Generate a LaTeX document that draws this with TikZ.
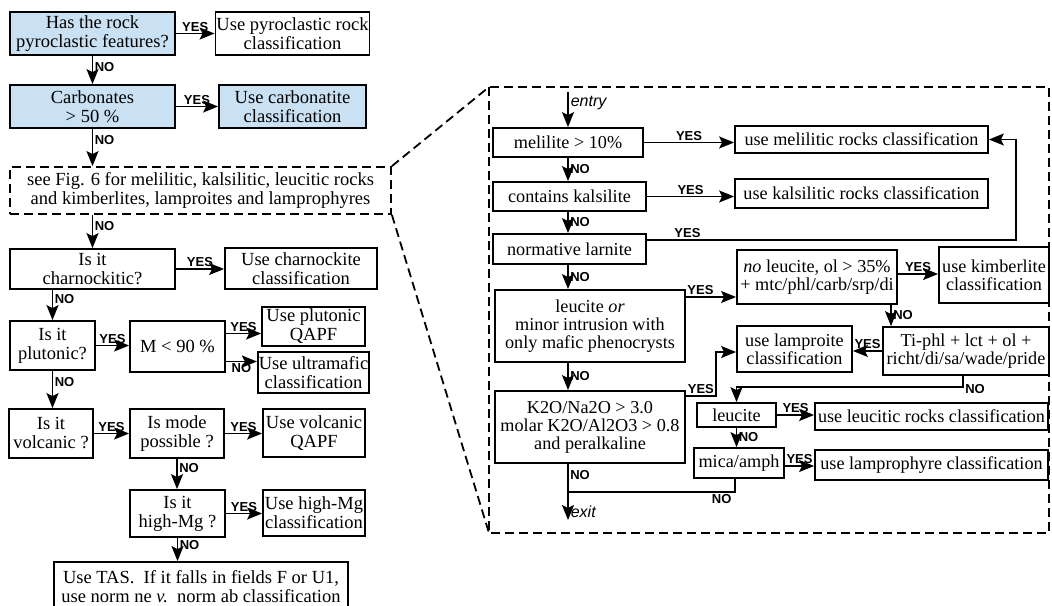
\documentclass[tikz,border=0pt]{standalone}
\usepackage{fontspec}
\setmainfont{Liberation Serif}
\setsansfont{Liberation Sans}
\usetikzlibrary{arrows.meta}
\definecolor{paleblue}{RGB}{201,225,243}

\begin{document}
\begin{tikzpicture}[x=1pt,y=-1pt,
		box/.style={draw,line width=1.8,align=center,inner sep=1pt,font=\fontsize{18.5}{19}\selectfont},
		rbox/.style={box,font=\fontsize{18.2}{18}\selectfont},
		tinted/.style={box,fill=paleblue},
		yn/.style={font=\fontsize{13}{13}\sffamily\bfseries,inner sep=1.5pt},
		tag/.style={font=\fontsize{16}{16}\sffamily\itshape,inner sep=2pt},
		arr/.style={line width=1.6,-{Stealth[length=15pt,width=12pt,inset=3pt]}},
		zoomline/.style={line width=1.8,dash pattern=on 9pt off 5pt}]
			\useasboundingbox (0,0) rectangle (1052,605);
			%left column
			\node[tinted,minimum width=165,minimum height=43] (pyro) at (92.5,33.5) {Has the rock\\pyroclastic features?};
			\node[box,minimum width=147,minimum height=43] (pyrouse) at (292.5,33.5) {Use pyroclastic rock\\classification};
			\node[tinted,minimum width=165,minimum height=43] (carb) at (92.5,106.5) {Carbonates\\> 50 \%};
			\node[tinted,minimum width=147,minimum height=43] (carbuse) at (292.5,106.5) {Use carbonatite\\classification};
			\node[box,zoomline,minimum width=381,minimum height=47] (fig) at (200.5,190.5) {see Fig. 6 for melilitic, kalsilitic, leucitic rocks\\and kimberlites, lamproites and lamprophyres};
			\node[box,minimum width=165,minimum height=40] (charn) at (92.5,269) {Is it\\charnockitic?};
			\node[box,minimum width=152,minimum height=41] (charnuse) at (301,268.5) {Use charnockite\\classification};
			\node[box,minimum width=85,minimum height=49] (pluto) at (52.5,345.5) {Is it\\plutonic?};
			\node[box,minimum width=95,minimum height=51] (mafic) at (177.5,346.5) {M < 90 \%};
			\node[box,minimum width=103,minimum height=39] (plutouse) at (313.5,326.5) {Use plutonic\\QAPF};
			\node[box,minimum width=103,minimum height=41] (ultra) at (313.5,372.5) {Use ultramafic\\classification};
			\node[box,minimum width=84,minimum height=49] (volc) at (51,433.5) {Is it\\volcanic ?};
			\node[box,minimum width=94,minimum height=49] (mode) at (177,433.5) {Is mode\\possible ?};
			\node[box,minimum width=102,minimum height=48] (volcuse) at (314,433) {Use volcanic\\QAPF};
			\node[box,minimum width=95,minimum height=47] (himg) at (177.5,513.5) {Is it\\high-Mg ?};
			\node[box,minimum width=102,minimum height=46] (himguse) at (314,513) {Use high-Mg\\classification};
			\node[box,minimum width=294,minimum height=50] (tas) at (201,587) {Use TAS.\ \ If it falls in fields F or U1,\\use norm ne \textit{v.}\ \ norm ab classification};
			
			\draw[arr] (pyro) -- node[yn,above]{YES} (pyrouse);
			\draw[arr] (pyro.south) -- node[yn,right,pos=0.4]{NO} (carb.north);
			\draw[arr] (carb) -- node[yn,above]{YES} (carbuse);
			\draw[arr] (carb.south) -- node[yn,right,pos=0.3]{NO} (carb.south |- fig.north);
			\draw[arr] (fig.south -| charn) -- node[yn,right,pos=0.35]{NO} (charn);
			\draw[arr] (charn.east) -- node[yn,above]{YES} (charn.east -| charnuse.west);
			\draw[arr] (charn.south -| pluto) -- node[yn,right,pos=0.3]{NO} (pluto);
			\draw[arr] (pluto.east) -- node[yn,above]{YES} (pluto.east -| mafic.west);
			\draw[arr] ([yshift=13pt]mafic.east) -- node[yn,above]{YES} ([yshift=13pt]mafic.east -| plutouse.west);
			\draw[arr] ([yshift=-15pt]mafic.east) -- node[yn,below]{NO} ([yshift=-15pt]mafic.east -| ultra.west);
			\draw[arr] (pluto.south) -- node[yn,right,pos=0.3]{NO} (pluto.south |- volc.north);
			\draw[arr] (volc) -- node[yn,above]{YES} (mode);
			\draw[arr] (mode.east) -- node[yn,above]{YES} (mode.east -| volcuse.west);
			\draw[arr] (mode.south) -- node[yn,right,pos=0.3]{NO} (mode.south |- himg.north);
			\draw[arr] (himg.east) -- node[yn,above]{YES} (himg.east -| himguse.west);
			\draw[arr] (himg.south) -- node[yn,right,pos=0.3]{NO} (himg.south |- tas.north);
			
			%zoom to right panel
			\coordinate (pnw) at (489,87);
			\coordinate (pse) at (1049,533);
			\coordinate (psw) at (489,533);
			\draw[zoomline] (pnw) rectangle (pse);
			\draw[zoomline] (fig.north east) -- (pnw);
			\draw[zoomline] (fig.south east) -- (psw);
			
			%right panel
			\node[rbox,minimum width=150,minimum height=29] (meli) at (568,142.5) {melilite > 10\%};
			\node[rbox,minimum width=253,minimum height=27] (meliuse) at (861.5,139.5) {use melilitic rocks classification};
			\node[rbox,minimum width=153,minimum height=29] (kals) at (569.5,196.5) {contains kalsilite};
			\node[rbox,minimum width=253,minimum height=29] (kalsuse) at (861.5,193.5) {use kalsilitic rocks classification};
			\node[rbox,minimum width=153,minimum height=30] (larn) at (569.5,249) {normative larnite};
			\node[rbox,minimum width=190,minimum height=72] (leuc) at (590,326) {leucite \textit{or}\\minor intrusion with\\only mafic phenocrysts};
			\node[rbox,minimum width=190,minimum height=72] (potas) at (590,427) {K2O/Na2O > 3.0\\molar K2O/Al2O3 > 0.8\\and peralkaline};
			\node[rbox,minimum width=160,minimum height=54] (kimb) at (817,277) {\textit{no} leucite, ol > 35\%\\+ mtc/phl/carb/srp/di};
			\node[rbox,minimum width=110,minimum height=56] (kimbuse) at (994,275) {use kimberlite\\classification};
			\node[rbox,minimum width=166,minimum height=48] (tiphl) at (966,351) {Ti-phl + lct + ol +\\richt/di/sa/wade/pride};
			\node[rbox,minimum width=115,minimum height=46] (lampuse) at (794.5,349) {use lamproite\\classification};
			\node[rbox,minimum width=79,minimum height=24] (lct) at (736.5,415) {leucite};
			\node[rbox,minimum width=233,minimum height=27] (lctuse) at (931.5,416.5) {use leucitic rocks classification};
			\node[rbox,minimum width=90,minimum height=30] (mica) at (739,463) {mica/amph};
			\node[rbox,minimum width=233,minimum height=30] (micause) at (931.5,465) {use lamprophyre classification};
			\coordinate (entry) at (568,92);
			\coordinate (exit) at (568,520);
			
			\draw[arr] (entry) -- node[tag,right,pos=0.3]{entry} (meli);
			\draw[arr] (meli.east) -- node[yn,above]{YES} (meli.east -| meliuse.west);
			\draw[arr] (meli.south) -- node[yn,right]{NO} (meli.south |- kals.north);
			\draw[arr] (kals.east) -- node[yn,above]{YES} (kals.east -| kalsuse.west);
			\draw[arr] (kals.south -| meli.south) -- node[yn,right]{NO} (meli.south |- larn.north);
			\draw[arr] ([yshift=9pt]larn.east) -- node[yn,above,pos=0.11]{YES} ++(369,0) |- (meliuse.east);
			\draw[arr] (larn.south -| meli.south) -- node[yn,right]{NO} (meli.south |- leuc.north);
			\draw[arr] ([yshift=29pt]leuc.east) -- node[yn,above,pos=0.29]{YES} ([yshift=29pt]leuc.east -| kimb.west);
			\draw[arr] ([yshift=3pt]kimb.east) -- node[yn,above]{YES} ([yshift=3pt]kimb.east -| kimbuse.west);
			\draw[arr] ([xshift=74pt]kimb.south) -- node[yn,right]{NO} ([xshift=74pt]kimb.south |- tiphl.north);
			\draw[arr] (tiphl.west) -- node[yn,above]{YES} (tiphl.west -| lampuse.east);
			\draw[arr] ([xshift=-3pt]tiphl.south) -- ++(0,11) node[yn,anchor=west,yshift=-2pt]{NO} -| (lct.north);
			\draw[arr] (lct.east) -- node[yn,above]{YES} (lct.east -| lctuse.west);
			\draw[arr] (lct.south) -- node[yn,right]{NO} (lct.south |- mica.north);
			\draw[arr] ([yshift=-3pt]mica.east) -- node[yn,above]{YES} ([yshift=-3pt]mica.east -| micause.west);
			\draw[arr] (leuc.south -| meli.south) -- node[yn,right]{NO} (meli.south |- potas.north);
			\draw[arr] ([yshift=31pt]potas.east) -- node[yn,above]{YES} ++(30,0) |- ([yshift=-3pt]lampuse.west);
			\draw[arr] (potas.south -| meli.south) -- node[yn,right,pos=0.2]{NO} node[tag,right,pos=0.85]{exit} (exit);
			\draw[line width=1.6] ([xshift=-4pt]mica.south) -- ++(0,13) coordinate (mj) -- node[yn,below,pos=0.08]{NO} (mj -| exit);
		\end{tikzpicture}
\end{document}
